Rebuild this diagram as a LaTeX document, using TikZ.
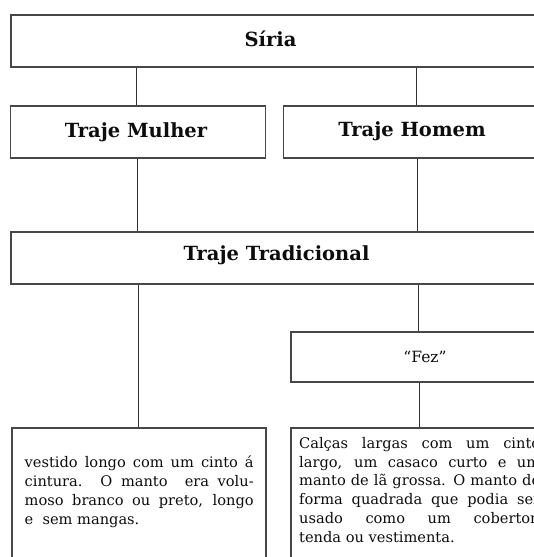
\documentclass[tikz,border=0pt]{standalone}
\usepackage{fontspec}
\setmainfont{DejaVu Serif}
\begin{document}
\begin{tikzpicture}[x=1pt,y=-1pt,
  box/.style={draw=black!72, line width=1.1pt, rectangle, inner sep=0pt, fill=white},
  conn/.style={draw=black!80, line width=1pt},
  head/.style={font=\bfseries\fontsize{19.5}{22}\selectfont, text=black!95, inner sep=0pt},
  body/.style={font=\fontsize{14.6}{18.8}\selectfont, text=black!95, inner sep=0pt, align=justify, anchor=north west},
]
\useasboundingbox (0,0) rectangle (534,557);
\clip (0,0) rectangle (534,557);
\fill[white] (0,0) rectangle (534,557);

% boxes
\node[box, minimum width=534pt, minimum height=52pt] (siria) at (278,41) {};
\node[box, minimum width=255pt, minimum height=52pt] (mulher) at (138,132) {};
\node[box, minimum width=257pt, minimum height=52pt] (homem) at (412,132) {};
\node[box, minimum width=534pt, minimum height=52pt] (trad) at (278,258) {};
\node[box, minimum width=269pt, minimum height=50pt] (fez) at (425.5,357) {};
\node[box, minimum width=254pt, minimum height=172pt] (vestido) at (139,514) {};
\node[box, minimum width=269pt, minimum height=172pt] (calcas) at (425.5,514) {};

% texts
\node[head] (siriaT) at (270.5,39) {Síria};
\node[head] (mulherT) at (136,132) {Traje Mulher};
\node[head] (homemT) at (412,131) {Traje Homem};
\node[head] (tradT) at (276.5,255) {Traje Tradicional};
\node[font=\fontsize{15.5}{18}\selectfont, text=black!95, inner sep=0pt] (fezT) at (425,357) {“Fez”};

\node[body, text width=229pt] (vestidoT) at (24.5,456) {vestido longo com um cinto á\linebreak
cintura. O manto \ era volu-\linebreak
moso branco ou preto, longo\linebreak
e \ sem mangas.};

\node[body, text width=241pt] (calcasT) at (299,437) {Calças largas com um cinto\linebreak
largo, um casaco curto e um\linebreak
manto de lã grossa. O manto de\linebreak
forma quadrada que podia ser\linebreak
usado como um cobertor,\linebreak
tenda ou vestimenta.};

% connectors
\draw[conn] ([xshift=-1.5pt]siria.south -| mulher.north) -- ([xshift=-1.5pt]mulher.north);
\draw[conn] ([xshift=4pt]siria.south -| homem.north) -- ([xshift=4pt]homem.north);
\draw[conn] ([xshift=-0.5pt]mulher.south) -- ([xshift=-0.5pt]trad.north -| mulher.south);
\draw[conn] ([xshift=5.5pt]homem.south) -- ([xshift=5.5pt]trad.north -| homem.south);
\draw[conn] ([xshift=-1pt]trad.south -| vestido.north) -- ([xshift=-1pt]vestido.north);
\draw[conn] ([xshift=-7.5pt]trad.south -| fez.north) -- ([xshift=-7.5pt]fez.north);
\draw[conn] ([xshift=-6.5pt]fez.south) -- ([xshift=-6.5pt]calcas.north);
\end{tikzpicture}
\end{document}
